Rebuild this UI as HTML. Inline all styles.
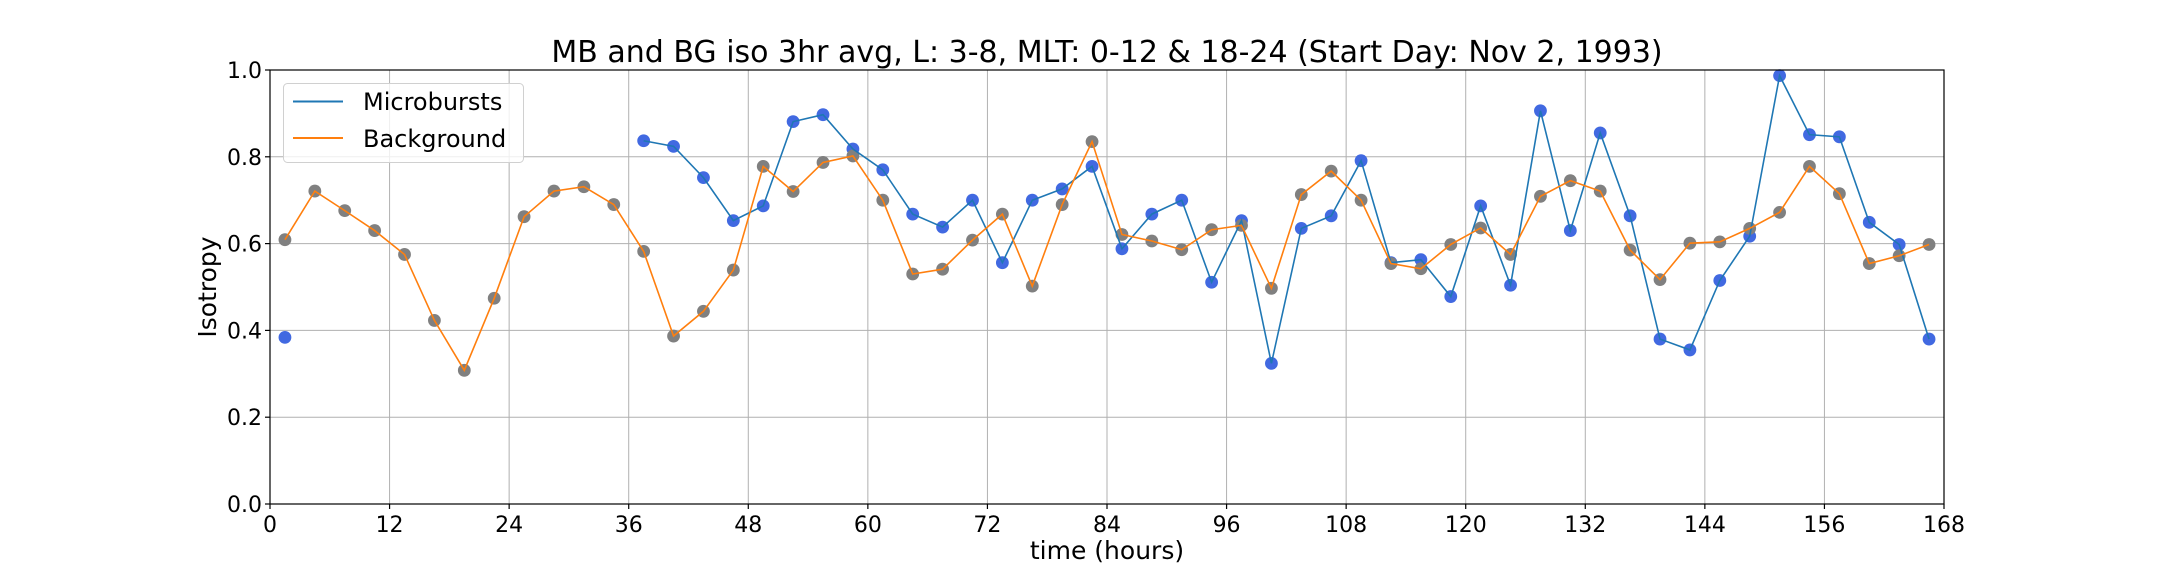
<!DOCTYPE html>
<html><head><meta charset="utf-8"><style>
html,body{margin:0;padding:0;background:#fff;}
svg{display:block;font-family:"DejaVu Sans","Liberation Sans",sans-serif;}
</style></head><body>
<svg id="chart" width="2160" height="576" viewBox="0 0 2160 576" xmlns="http://www.w3.org/2000/svg">
<rect width="2160" height="576" fill="#fff"/>
<text x="1107" y="62" font-size="30" text-anchor="middle">MB and BG iso 3hr avg, L: 3-8, MLT: 0-12 &amp; 18-24 (Start Day: Nov 2, 1993)</text>
<g id="grid"></g>
<g id="series"></g>
<g id="axes"></g>
<text x="1107" y="559" font-size="25" text-anchor="middle">time (hours)</text>
<text x="0" y="0" font-size="25" text-anchor="middle" transform="translate(216,287) rotate(-90)">Isotropy</text>
<g>
<rect x="283.5" y="83.5" width="240" height="79" rx="4" fill="#fff" fill-opacity="0.8" stroke="#d0d0d0"/>
<line x1="293" y1="101.5" x2="343" y2="101.5" stroke="#1f77b4" stroke-width="2"/>
<text x="363" y="110" font-size="24">Microbursts</text>
<line x1="293" y1="138" x2="343" y2="138" stroke="#ff7f0e" stroke-width="2"/>
<text x="363" y="147" font-size="24">Background</text>
</g>
</svg>
<script>
const times = [1.5,4.5,7.5,10.5,13.5,16.5,19.5,22.5,25.5,28.5,31.5,34.5,37.5,40.5,43.5,46.5,49.5,52.5,55.5,58.5,61.5,64.5,67.5,70.5,73.5,76.5,79.5,82.5,85.5,88.5,91.5,94.5,97.5,100.5,103.5,106.5,109.5,112.5,115.5,118.5,121.5,124.5,127.5,130.5,133.5,136.5,139.5,142.5,145.5,148.5,151.5,154.5,157.5,160.5,163.5,166.5];
const background = [0.609,0.721,0.676,0.630,0.575,0.423,0.308,0.474,0.662,0.721,0.731,0.690,0.582,0.387,0.444,0.539,0.778,0.720,0.787,0.802,0.700,0.530,0.541,0.608,0.668,0.502,0.690,0.835,0.621,0.606,0.586,0.632,0.642,0.497,0.713,0.767,0.700,0.554,0.542,0.598,0.636,0.575,0.709,0.745,0.721,0.585,0.517,0.601,0.604,0.635,0.672,0.778,0.715,0.554,0.572,0.598];
const microbursts = [0.384,null,null,null,null,null,null,null,null,null,null,null,0.837,0.824,0.752,0.653,0.687,0.881,0.897,0.818,0.770,0.668,0.638,0.700,0.556,0.700,0.726,0.778,0.588,0.668,0.700,0.511,0.653,0.324,0.635,0.664,0.791,0.556,0.563,0.478,0.687,0.504,0.906,0.630,0.855,0.664,0.380,0.355,0.515,0.617,0.987,0.851,0.846,0.649,0.598,0.380];
const xTicks = [0,12,24,36,48,60,72,84,96,108,120,132,144,156,168];
const yTicks = [0,0.2,0.4,0.6,0.8,1.0];

const X0=270,X1=1944,Y0=504,Y1=70;
const xs = t => X0 + (t/168)*(X1-X0);
const ys = v => Y0 - v*(Y0-Y1);
const NS="http://www.w3.org/2000/svg";
function mk(tag, attrs, parent){const e=document.createElementNS(NS,tag);for(const k in attrs)e.setAttribute(k,attrs[k]);parent.appendChild(e);return e;}
const grid=document.getElementById('grid'), axes=document.getElementById('axes'), ser=document.getElementById('series');

xTicks.forEach(t=>{
  const g=mk('line',{x1:xs(t),x2:xs(t),y1:Y1,y2:Y0,stroke:'#b0b0b0','stroke-width':1},grid);
  
  
  mk('line',{x1:xs(t),x2:xs(t),y1:Y0,y2:Y0+5,stroke:'#000','stroke-width':1.2},axes);
  const tx=mk('text',{x:xs(t),y:Y0+28,'font-size':22,'text-anchor':'middle'},axes);
  tx.textContent=t;
  
  
});
yTicks.forEach(v=>{
  const g=mk('line',{x1:X0,x2:X1,y1:ys(v),y2:ys(v),stroke:'#b0b0b0','stroke-width':1},grid);
  
  
  mk('line',{x1:X0-5,x2:X0,y1:ys(v),y2:ys(v),stroke:'#000','stroke-width':1.2},axes);
  const tx=mk('text',{x:X0-8,y:ys(v)+8,'font-size':22,'text-anchor':'end'},axes);
  tx.textContent=v.toFixed(1);
  
  
});
const frame=mk('rect',{x:X0,y:Y1,width:X1-X0,height:Y0-Y1,fill:'none',stroke:'#000','stroke-width':1.2},axes);



function pathFor(vals){
  let d='',pen=false;
  vals.forEach((v,i)=>{
    if(v===null){pen=false;return;}
    d+=(pen?'L':'M')+xs(times[i]).toFixed(2)+' '+ys(v).toFixed(2);
    pen=true;
  });
  return d;
}
microbursts.forEach((v,i)=>{
  if(v===null)return;
  const c=mk('circle',{cx:xs(times[i]),cy:ys(v),r:6.4,fill:'#4169e1'},ser);
  
  
});
background.forEach((v,i)=>{
  const c=mk('circle',{cx:xs(times[i]),cy:ys(v),r:6.4,fill:'#808080'},ser);
  
  
});
const mbLine=mk('path',{d:pathFor(microbursts),fill:'none',stroke:'#1f77b4','stroke-width':1.6},ser);


const bgLine=mk('path',{d:pathFor(background),fill:'none',stroke:'#ff7f0e','stroke-width':1.6},ser);


</script>
</body></html>
